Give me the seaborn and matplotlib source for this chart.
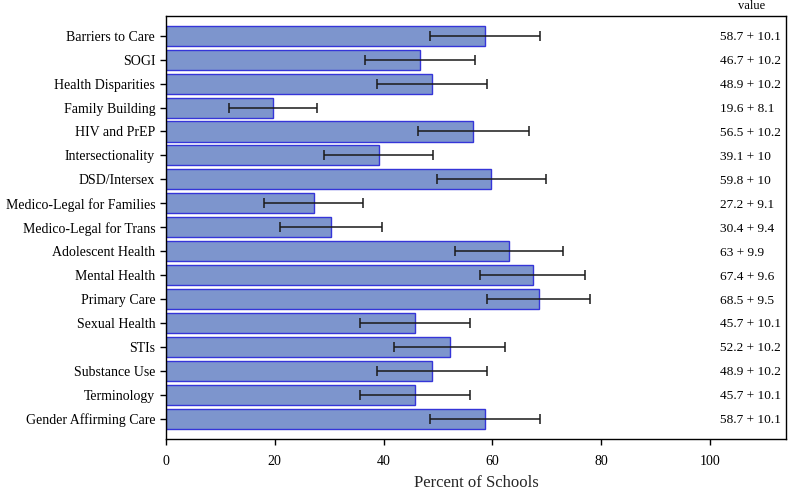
import pandas as pd
import matplotlib
matplotlib.use("Agg")
import matplotlib.pyplot as plt
import seaborn as sns

# Values
topics = [
    "Barriers to Care", "SOGI", "Health Disparities", "Family Building",
    "HIV and PrEP", "Intersectionality", "DSD/Intersex",
    "Medico-Legal for Families", "Medico-Legal for Trans", "Adolescent Health",
    "Mental Health", "Primary Care", "Sexual Health", "STIs",
    "Substance Use", "Terminology", "Gender Affirming Care",
]
percent = [58.7, 46.7, 48.9, 19.6, 56.5, 39.1, 59.8, 27.2, 30.4, 63,
           67.4, 68.5, 45.7, 52.2, 48.9, 45.7, 58.7]
margin = [10.1, 10.2, 10.2, 8.1, 10.2, 10, 10, 9.1, 9.4, 9.9,
          9.6, 9.5, 10.1, 10.2, 10.2, 10.1, 10.1]
value_labels = [
    "58.7 + 10.1", "46.7 + 10.2", "48.9 + 10.2", "19.6 + 8.1", "56.5 + 10.2",
    "39.1 + 10", "59.8 + 10", "27.2 + 9.1", "30.4 + 9.4", "63 + 9.9",
    "67.4 + 9.6", "68.5 + 9.5", "45.7 + 10.1", "52.2 + 10.2", "48.9 + 10.2",
    "45.7 + 10.1", "58.7 + 10.1",
]
x_ticks = [0, 20, 40, 60, 80, 100]

df = pd.DataFrame({"topic": topics, "percent": percent, "margin": margin,
                   "label": value_labels})

sns.set_theme(style="ticks")
plt.rcParams["font.family"] = ["Liberation Serif", "DejaVu Serif"]
plt.rcParams["axes.linewidth"] = 1.0

fig = plt.figure(figsize=(7.88, 4.94), dpi=100)
ax = fig.add_axes([0.2107, 0.1113, 0.7868, 0.857])

sns.barplot(data=df, x="percent", y="topic", orient="h", ax=ax,
            color="#7d95cd", edgecolor="#3535d8", linewidth=1.0,
            saturation=1, width=0.84, errorbar=None)

ax.errorbar(df["percent"], range(len(df)), xerr=df["margin"], fmt="none",
            ecolor="#1a1a1a", elinewidth=1.1, capsize=3.6, capthick=1.1)

# value column on the right (left aligned)
for i, lab in enumerate(df["label"]):
    ax.text(101.8, i, lab, ha="left", va="center_baseline", fontsize=9.6,
            color="black")
ax.annotate("value", xy=(107.7, 1), xycoords=("data", "axes fraction"),
            xytext=(0, 7.2), textcoords="offset points",
            ha="center", va="center", fontsize=9, color="black")

ax.set_xlim(0, 114)
ax.set_ylim(16.85, -0.84)
ax.set_xticks(x_ticks)
ax.set_xlabel("Percent of Schools", fontsize=12, labelpad=5)
ax.set_ylabel("")
ax.tick_params(axis="both", labelsize=10, length=4.3, width=1.0,
               color="black", labelcolor="black")
ax.tick_params(axis="x", pad=7)
ax.tick_params(axis="y", pad=3.5)
for side in ["top", "right", "left", "bottom"]:
    ax.spines[side].set_visible(True)
    ax.spines[side].set_color("black")

fig.savefig("out.png", dpi=100)
